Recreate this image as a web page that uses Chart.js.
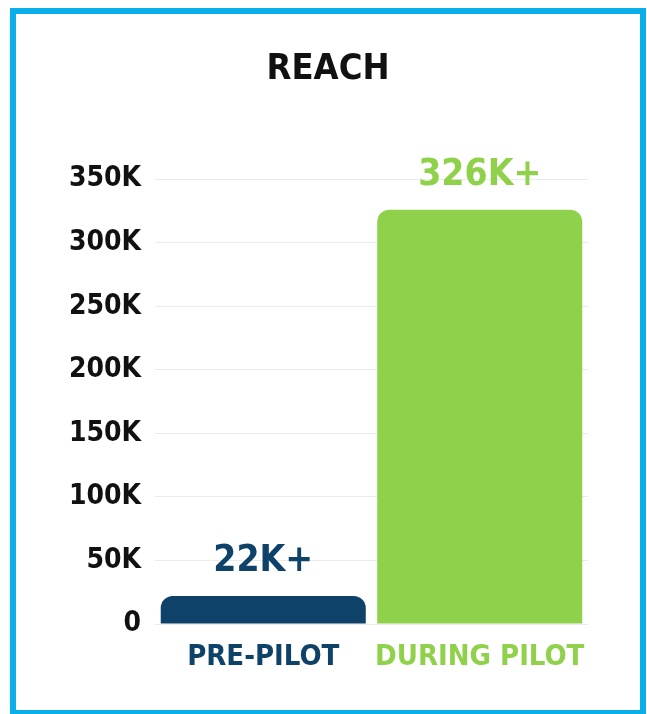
<!DOCTYPE html>
<html><head><meta charset="utf-8">
<script src="https://cdn.jsdelivr.net/npm/chart.js@4"></script>
<style>
html,body{margin:0;padding:0;background:#fff;}
#frame{position:absolute;left:10px;top:8px;width:636px;height:708px;border:6px solid #0aaee8;box-sizing:border-box;background:#fff;}
canvas{display:block}
</style></head>
<body>
<div id="frame"><canvas id="c" width="624" height="696"></canvas></div>
<script>
const categories = ['PRE-PILOT', 'DURING PILOT'];
const reachValues = [22000, 326000];
const valueLabels = ['22K+', '326K+'];
const barColors = ['#0f4269', '#8fd14a'];
const yTickValues = [0, 50000, 100000, 150000, 200000, 250000, 300000, 350000];
const titleText = 'REACH';

const FONT = "'Liberation Sans Narrow','DejaVu Sans Condensed','Liberation Sans',sans-serif";

const valueLabelPlugin = {
  id: 'valueLabels',
  afterDatasetsDraw(chart) {
    const ctx = chart.ctx;
    const meta = chart.getDatasetMeta(0);
    ctx.save();
    ctx.font = 'bold 37px ' + FONT;
    ctx.textAlign = 'center';
    ctx.textBaseline = 'alphabetic';
    meta.data.forEach((bar, i) => {
      ctx.fillStyle = barColors[i];
      ctx.fillText(valueLabels[i], bar.x, bar.y - 25);
    });
    ctx.restore();
  }
};

new Chart(document.getElementById('c'), {
  type: 'bar',
  data: {
    labels: categories,
    datasets: [{
      data: reachValues,
      backgroundColor: barColors,
      borderRadius: 12,
      borderSkipped: 'start',
      barPercentage: 0.947,
      categoryPercentage: 1.0
    }]
  },
  options: {
    responsive: false,
    animation: false,
    layout: { padding: { left: 0, right: 0, top: 0, bottom: 36 } },
    plugins: {
      legend: { display: false },
      tooltip: { enabled: false },
      title: {
        display: true,
        text: titleText,
        color: '#111',
        font: { family: FONT, size: 36, weight: 'bold', lineHeight: 1.2 },
        padding: { top: 34, bottom: 88 }
      }
    },
    scales: {
      y: {
        min: 0,
        max: 350000,
        afterBuildTicks(scale) { scale.ticks = yTickValues.map(v => ({ value: v })); },
        afterFit(scale) { scale.width = 139; },
        grid: { color: '#ebebeb', lineWidth: 1, drawTicks: false },
        border: { display: false },
        ticks: {
          padding: 14,
          color: '#111',
          font: { family: FONT, size: 28, weight: 'bold' },
          callback: v => v === 0 ? '0' : (v / 1000) + 'K'
        }
      },
      yRight: {
        position: 'right',
        display: true,
        afterFit(scale) { scale.width = 52; },
        grid: { display: false },
        border: { display: false },
        ticks: { display: false }
      },
      x: {
        afterFit(scale) { scale.height = 50; },
        grid: { display: false },
        border: { display: false },
        ticks: {
          padding: 8,
          maxRotation: 0,
          minRotation: 0,
          autoSkip: false,
          color: barColors,
          font: { family: FONT, size: 29, weight: 'bold' }
        }
      }
    }
  },
  plugins: [valueLabelPlugin]
});
</script>
</body></html>
